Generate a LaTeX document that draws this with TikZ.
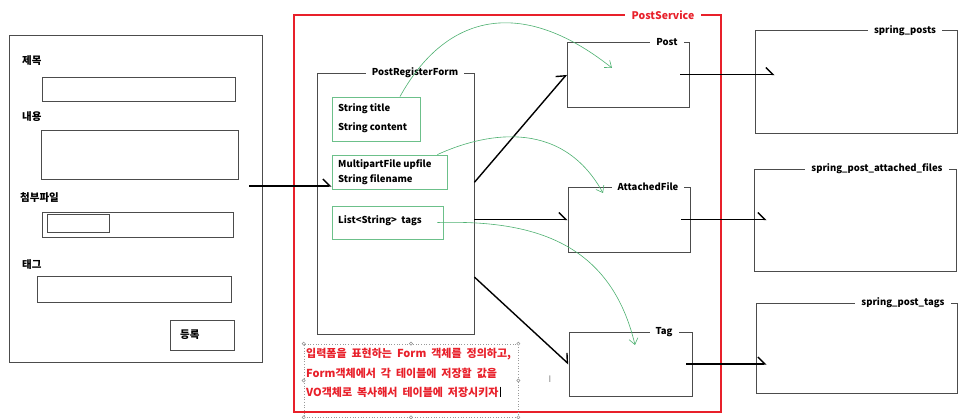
\documentclass[tikz,border=0pt]{standalone}
\usepackage{fontspec}
\setmainfont{Noto Sans CJK KR}
\usetikzlibrary{arrows.meta}
\definecolor{svcred}{HTML}{E8202A}
\definecolor{fieldgreen}{HTML}{6CC08A}
\definecolor{flowgreen}{HTML}{4DB070}
\newcommand\memofont{\bfseries\fontsize{11}{12}\selectfont\spaceskip 0.45em\relax}

\begin{document}
\begin{tikzpicture}[x=1pt,y=-1pt,
  box/.style={draw=black!70,line width=0.8pt,inner sep=0pt},
  field/.style={draw=fieldgreen,line width=0.8pt,inner sep=0pt},
  title/.style={fill=white,inner xsep=6pt,inner ysep=1pt,font=\bfseries\fontsize{9.5}{10}\selectfont},
  lbl/.style={inner sep=0pt,anchor=west,font=\bfseries\fontsize{9.5}{10}\selectfont},
  klbl/.style={inner sep=0pt,anchor=west,font=\bfseries\fontsize{10.5}{11}\selectfont},
  note/.style={inner sep=0pt,anchor=west,text=svcred,font=\memofont},
  link/.style={line width=1.4pt,-{Straight Barb[left,length=7pt,width=14pt]}},
  flow/.style={draw=flowgreen,line width=0.6pt,-{Straight Barb[length=6pt,width=9pt]}}]
 \useasboundingbox (0,0) rectangle (968,419);
 \node[box,minimum width=253pt,minimum height=327pt] (form) at (135.5,198.5) {};
 \node[klbl] (ltitle) at (22,61) {제목};
 \node[box,minimum width=193pt,minimum height=24pt] (intitle) at (138.5,89) {};
 \node[klbl] (lcontent) at (22,117) {내용};
 \node[box,minimum width=197pt,minimum height=49pt] (incontent) at (139.5,154.5) {};
 \node[klbl] (lfile) at (20,198) {첨부파일};
 \node[box,minimum width=191pt,minimum height=25pt] (infile) at (137.5,224.5) {};
 \node[box,minimum width=62pt,minimum height=18pt] (browse) at (78,223) {};
 \node[klbl] (ltags) at (22,265) {태그};
 \node[box,minimum width=194pt,minimum height=26pt] (intags) at (134,289) {};
 \node[box,minimum width=64pt,minimum height=30pt] (submit) at (202,335) {};
 \node[klbl] (lsubmit) at (180,335) {등록};
 \coordinate (send) at (249,186);

 \node[draw=svcred,line width=1.3pt,inner sep=0pt,minimum width=427pt,minimum height=397pt] (service) at (507.5,213.5) {};
 \node[title,text=svcred,inner xsep=7pt,font=\bfseries\fontsize{10.5}{11}\selectfont] (servicet) at (663,15) {PostService};

 \node[box,minimum width=157pt,minimum height=261pt] (reg) at (395.5,203.5) {};
 \node[title] (regt) at (415,73) {PostRegisterForm};
 \node[field,minimum width=88pt,minimum height=44pt] (vals) at (376,119) {};
 \node[lbl] (vtitle) at (338,109) {String title};
 \node[lbl] (vcontent) at (338,128) {String content};
 \node[field,minimum width=115pt,minimum height=34pt] (upload) at (389.5,172) {};
 \node[lbl] (uupfile) at (338,165) {MultipartFile upfile};
 \node[lbl] (uname) at (338,180) {String filename};
 \node[field,minimum width=111pt,minimum height=33pt] (taglist) at (387.5,222.5) {};
 \node[lbl] (ttags) at (338,221) {List<String>~~tags};

 \node[box,minimum width=122pt,minimum height=65pt] (post) at (628,74.5) {};
 \node[title] (postt) at (667,42) {Post};
 \node[box,minimum width=122pt,minimum height=65pt] (file) at (629,219.5) {};
 \node[title] (filet) at (648,187) {AttachedFile};
 \node[box,minimum width=123pt,minimum height=64pt] (tag) at (630.5,364) {};
 \node[title] (tagt) at (664,332) {Tag};

 \node[box,minimum width=202pt,minimum height=103pt] (posts) at (856,81.5) {};
 \node[title] (postst) at (905,31) {spring\_posts};
 \node[box,minimum width=202pt,minimum height=102pt] (files) at (855,220) {};
 \node[title] (filest) at (877,169) {spring\_post\_attached\_files};
 \node[box,minimum width=201pt,minimum height=90pt] (tags) at (856.5,348) {};
 \node[title] (tagst) at (903,303) {spring\_post\_tags};

 \node[draw=black!40,dotted,line width=0.7pt,inner sep=0pt,minimum width=214pt,minimum height=73pt] (memo) at (411,380.5) {};
 \foreach \a in {north west,north,north east,west,east,south west,south,south east}
  \draw[black!45,fill=white,line width=0.5pt] (memo.\a) circle (1.6pt);
 \node[note] (memo1) at (306,354) {입력폼을 표현하는 Form 객체를 정의하고,};
 \node[note] (memo2) at (306,373) {Form객체에서 각 테이블에 저장할 값을};
 \node[note] (memo3) at (306,392) {VO객체로 복사해서 테이블에 저장시키자};
 \draw[line width=0.6pt] ([xshift=1.5pt]memo3.north east) -- ([xshift=1.5pt]memo3.south east);
 \node[inner sep=0pt,text=black!50,font=\fontsize{9}{9}\selectfont] (ibeam) at (550,379) {I};

 \draw[link] (send) -- (send -| upload.west);
 \draw[link] (reg.15) -- (post.west);
 \draw[link] (reg.east |- file.west) -- (file.west);
 \draw[link] (reg.-43) -- (tag.west);
 \draw[link] ([xshift=-9pt]post.east) -- ([xshift=20pt]posts.west |- post.east);
 \draw[link] ([xshift=-9pt]file.east) -- ([xshift=13pt]files.west |- file.east);
 \draw[link] ([xshift=-6pt]tag.east) -- ([xshift=11pt]tags.west |- tag.east);

 \draw[flow] ([xshift=24pt]vals.north) .. controls (445,15) and (520,-5) .. (612,68);
 \draw[flow] ([xshift=-10pt]upload.north east) .. controls (480,135) and (560,115) .. (603,193);
 \draw[flow] ([xshift=-6pt]taglist.east) .. controls (530,220) and (610,240) .. (635,345);
\end{tikzpicture}
\end{document}
